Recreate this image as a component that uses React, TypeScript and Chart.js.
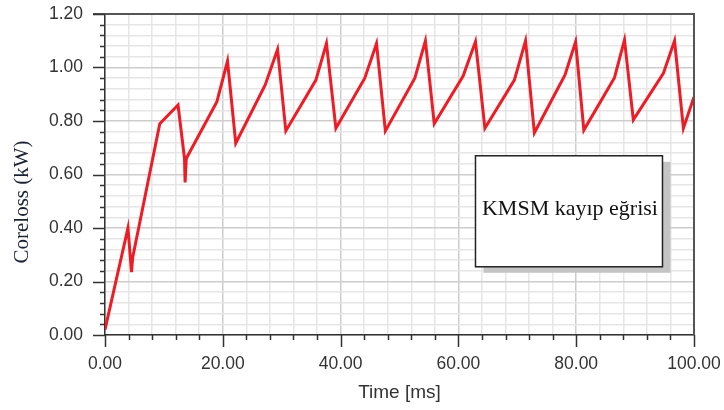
import React, { useEffect, useRef } from "react";
import { Chart, registerables } from "chart.js";

Chart.register(...registerables);

const timeMs = [
  0, 3.9, 4.5, 4.7, 9.3, 12.4, 13.5, 13.6, 13.8, 19.0, 20.8, 22.2, 27.2, 29.3, 30.7,
  35.8, 37.6, 39.2, 44.1, 46.1, 47.6, 52.6, 54.4, 55.9, 60.8, 62.9, 64.5, 69.5, 71.4,
  72.9, 78.1, 79.9, 81.3, 86.5, 88.2, 89.7, 94.8, 96.7, 98.2, 100,
];
const corelossKW = [
  0.02, 0.4, 0.235, 0.29, 0.79, 0.86, 0.66, 0.57, 0.66, 0.872, 1.024, 0.717, 0.935, 1.068,
  0.763, 0.953, 1.09, 0.773, 0.96, 1.09, 0.763, 0.96, 1.1, 0.79, 0.968, 1.097, 0.773,
  0.953, 1.1, 0.756, 0.972, 1.096, 0.766, 0.962, 1.103, 0.804, 0.978, 1.1, 0.773, 0.89,
];
const xTitle = "Time [ms]";
const yTitle = "Coreloss (kW)";
const noteText = "KMSM kayıp eğrisi";

const isMajorX = (v: number) => Math.round(v) % 20 === 0;
const isMajorY = (v: number) => Math.round(v * 100) % 20 === 0;

const framePlugin = {
  id: "framePlugin",
  afterDraw(chart: any) {
    const { ctx, chartArea } = chart;
    const { left, right, top, bottom } = chartArea;
    const xs = chart.scales.x;
    const ys = chart.scales.y;
    ctx.save();
    // frame top / right
    ctx.strokeStyle = "#555";
    ctx.lineWidth = 2;
    ctx.beginPath();
    ctx.moveTo(left - 12, top);
    ctx.lineTo(right, top);
    ctx.lineTo(right, bottom);
    ctx.stroke();
    // tick marks
    ctx.strokeStyle = "#333";
    ctx.lineWidth = 1.5;
    ctx.beginPath();
    xs.ticks.forEach((t: any) => {
      const px = Math.round(xs.getPixelForValue(t.value)) + 0.5;
      ctx.moveTo(px, bottom);
      ctx.lineTo(px, bottom + (isMajorX(t.value) ? 12 : 5));
    });
    ys.ticks.forEach((t: any) => {
      const py = Math.round(ys.getPixelForValue(t.value)) + 0.5;
      ctx.moveTo(left, py);
      ctx.lineTo(left - (isMajorY(t.value) ? 12 : 5), py);
    });
    ctx.stroke();
    // y title
    ctx.save();
    ctx.translate(22, 202);
    ctx.rotate(-Math.PI / 2);
    ctx.font = '21px "Liberation Serif"';
    ctx.fillStyle = "#1b2333";
    ctx.textAlign = "center";
    ctx.textBaseline = "middle";
    ctx.fillText(yTitle, 0, 0);
    ctx.restore();
    // note box
    const bx = xs.getPixelForValue(62.9);
    const by = ys.getPixelForValue(0.67);
    const bw = 187;
    const bh = 111;
    ctx.fillStyle = "#c4c4c4";
    ctx.fillRect(bx + 8, by + 6, bw, bh);
    ctx.fillStyle = "#fff";
    ctx.fillRect(bx, by, bw, bh);
    ctx.strokeStyle = "#222";
    ctx.lineWidth = 1.5;
    ctx.strokeRect(bx, by, bw, bh);
    ctx.fillStyle = "#111";
    ctx.font = '22px "Liberation Serif"';
    ctx.textAlign = "center";
    ctx.textBaseline = "alphabetic";
    ctx.fillText(noteText, bx + bw / 2 + 1, by + 59);
    ctx.restore();
  },
};

export default function App() {
  const ref = useRef<HTMLCanvasElement | null>(null);
  useEffect(() => {
    if (!ref.current) return;
    const chart = new Chart(ref.current, {
      type: "line",
      data: {
        datasets: [
          {
            data: timeMs.map((t, i) => ({ x: t, y: corelossKW[i] })),
            borderColor: "#ee1c25",
            borderWidth: 3,
            pointRadius: 0,
            tension: 0,
            fill: false,
          },
        ],
      },
      options: {
        animation: false,
        responsive: false,
        devicePixelRatio: 1,
        layout: { padding: { top: 14, right: 30, left: 0, bottom: 0 } },
        plugins: { legend: { display: false }, tooltip: { enabled: false } },
        scales: {
          x: {
            type: "linear",
            min: 0,
            max: 100,
            afterFit: (s: any) => {
              s.height = 75;
              s.paddingLeft = 0;
              s.paddingRight = 0;
            },
            border: { display: true, color: "#333", width: 1.5 },
            grid: {
              drawTicks: false,
              color: (c: any) => (isMajorX(c.tick.value) ? "#cdcdcd" : "#e6e6e6"),
              lineWidth: 1.5,
            },
            ticks: {
              stepSize: 4,
              autoSkip: false,
              maxRotation: 0,
              padding: 19,
              color: "#333",
              font: { family: '"Liberation Sans"', size: 17.5 },
              callback: (v: any) => (isMajorX(Number(v)) ? Number(v).toFixed(2) : ""),
            },
            title: {
              display: true,
              text: xTitle,
              color: "#333",
              font: { family: '"Liberation Sans"', size: 19 },
              padding: { top: 0, bottom: 6 },
            },
          },
          y: {
            type: "linear",
            min: 0,
            max: 1.2,
            afterFit: (s: any) => {
              s.width = 105;
              s.paddingTop = 0;
              s.paddingBottom = 0;
            },
            border: { display: true, color: "#333", width: 1.5 },
            grid: {
              drawTicks: false,
              color: (c: any) => (isMajorY(c.tick.value) ? "#cdcdcd" : "#e6e6e6"),
              lineWidth: 1.5,
            },
            ticks: {
              stepSize: 0.04,
              autoSkip: false,
              padding: 22,
              color: "#333",
              font: { family: '"Liberation Sans"', size: 17.5 },
              callback: (v: any) => (isMajorY(Number(v)) ? Number(v).toFixed(2) : ""),
            },
          },
        },
      },
      plugins: [framePlugin],
    } as any);
    return () => chart.destroy();
  }, []);
  return (
    <div style={{ position: "fixed", left: 0, top: 0, width: 724, height: 410, background: "#fff" }}>
      <canvas ref={ref} width={724} height={410} style={{ display: "block" }} />
    </div>
  );
}
